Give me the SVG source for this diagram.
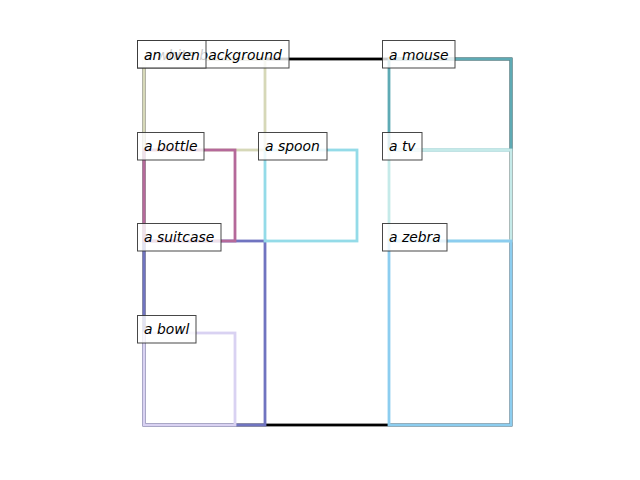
<svg xmlns="http://www.w3.org/2000/svg" width="640" height="480" viewBox="0 0 640 480">
<style>
.r{fill:none;stroke-width:2.8}
.lb{fill:#fff;fill-opacity:0.8;stroke:#333;stroke-opacity:0.9;stroke-width:1}
.t{font-family:"DejaVu Sans",sans-serif;font-style:italic;font-size:13.9px;fill:#000}
</style>
<rect width="640" height="480" fill="#fff"/>
<g id="connectors">
<rect id="bg-rect" class="r" x="144" y="59" width="367" height="366" stroke="#000"/>
<rect id="oven-rect" class="r" x="144" y="59" width="121" height="91" stroke="#d6d8b8"/>
<rect id="mouse-rect" class="r" x="389" y="59" width="122" height="91" stroke="#5eaab4"/>
<rect id="suitcase-rect" class="r" x="144" y="241" width="121" height="184" stroke="#7074c0"/>
<rect id="bottle-rect" class="r" x="144" y="150" width="91" height="91" stroke="#b5699a"/>
<rect id="spoon-rect" class="r" x="265" y="150" width="92" height="91" stroke="#94dbe8"/>
<rect id="tv-rect" class="r" x="389" y="150" width="122" height="91" stroke="#c5eae9"/>
<rect id="zebra-rect" class="r" x="389" y="241" width="122" height="184" stroke="#8ccdef"/>
<rect id="bowl-rect" class="r" x="144" y="333" width="91" height="92" stroke="#d9d2f2"/>
</g>
<g id="white-background"><rect class="lb" x="137.5" y="40.5" width="151.5" height="27.5"/><text class="t" x="144" y="59.5">a white background</text></g>
<g id="oven"><rect class="lb" x="137.5" y="40.5" width="68.5" height="27.5"/><text class="t" x="144" y="59.5">an oven</text></g>
<g id="mouse"><rect class="lb" x="382.5" y="40.5" width="72.5" height="27.5"/><text class="t" x="389" y="59.5">a mouse</text></g>
<g id="bottle"><rect class="lb" x="137.5" y="132.5" width="66.5" height="27.5"/><text class="t" x="144" y="150.7">a bottle</text></g>
<g id="spoon"><rect class="lb" x="258.5" y="132.5" width="68.5" height="27.5"/><text class="t" x="265" y="150.7">a spoon</text></g>
<g id="tv"><rect class="lb" x="382.5" y="132.5" width="39.5" height="27.5"/><text class="t" x="389" y="150.7">a tv</text></g>
<g id="suitcase"><rect class="lb" x="137.5" y="223.5" width="83.5" height="27.5"/><text class="t" x="144" y="241.7">a suitcase</text></g>
<g id="zebra"><rect class="lb" x="382.5" y="223.5" width="64.5" height="27.5"/><text class="t" x="389" y="241.7">a zebra</text></g>
<g id="bowl"><rect class="lb" x="137.5" y="315.5" width="58.5" height="27.5"/><text class="t" x="144" y="333.7">a bowl</text></g>
</svg>
